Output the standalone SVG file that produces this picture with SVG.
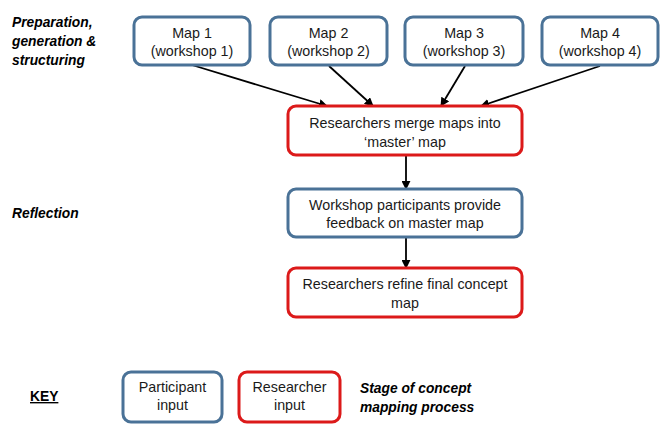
<svg xmlns="http://www.w3.org/2000/svg" width="667" height="432" viewBox="0 0 667 432">
<style>
.box{fill:#fff;stroke-width:3}
.p{stroke:#4a7297}
.r{stroke:#dc1a1a}
.t{font-family:"Liberation Sans",Arial,sans-serif;font-size:14.3px;fill:#1a1a1a;text-anchor:middle}
.l{font-family:"Liberation Sans",Arial,sans-serif;font-size:13.8px;font-weight:bold;font-style:italic;fill:#000}
.k{font-style:normal;text-decoration:underline}
.c{stroke:#000;stroke-width:1.8;fill:none;marker-end:url(#ah)}
</style>
<defs>
<marker id="ah" viewBox="0 0 10 10" refX="9" refY="5" markerWidth="5" markerHeight="5" orient="auto" markerUnits="strokeWidth">
<path d="M0,0 L10,5 L0,10 z" fill="#000"/>
</marker>
</defs>
<rect width="667" height="432" fill="#fff"/>
<g id="labels">
<text class="l" x="12" y="27">Preparation,</text>
<text class="l" x="12" y="46">generation &amp;</text>
<text class="l" x="12" y="65">structuring</text>
<text class="l" x="12" y="218">Reflection</text>
<text class="l k" x="30" y="401">KEY</text>
<text class="l" x="360" y="393">Stage of concept</text>
<text class="l" x="360" y="412">mapping process</text>
</g>
<g id="connectors">
<line class="c" x1="192" y1="65" x2="327" y2="106"/>
<line class="c" x1="329" y1="66" x2="373" y2="106"/>
<line class="c" x1="465" y1="66" x2="441" y2="106"/>
<line class="c" x1="600" y1="66" x2="481" y2="106"/>
<line class="c" x1="406" y1="156" x2="406" y2="189"/>
<line class="c" x1="406" y1="238" x2="406" y2="268"/>
</g>
<g id="map1">
<rect class="box p" x="134" y="17" width="116" height="48" rx="8"/>
<text class="t" x="192" y="38">Map 1</text>
<text class="t" x="192" y="56">(workshop  1)</text>
</g>
<g id="map2">
<rect class="box p" x="270" y="17" width="117" height="48" rx="8"/>
<text class="t" x="328.5" y="38">Map 2</text>
<text class="t" x="328.5" y="56">(workshop  2)</text>
</g>
<g id="map3">
<rect class="box p" x="405" y="17" width="118" height="48" rx="8"/>
<text class="t" x="464" y="38">Map 3</text>
<text class="t" x="464" y="56">(workshop  3)</text>
</g>
<g id="map4">
<rect class="box p" x="542" y="17" width="116" height="48" rx="8"/>
<text class="t" x="600" y="38">Map 4</text>
<text class="t" x="600" y="56">(workshop  4)</text>
</g>
<g id="merge">
<rect class="box r" x="288" y="106" width="234" height="49" rx="8"/>
<text class="t" x="405" y="128">Researchers merge maps into</text>
<text class="t" x="405" y="147">‘master’ map</text>
</g>
<g id="feedback">
<rect class="box p" x="288" y="189" width="234" height="48" rx="8"/>
<text class="t" x="405" y="210">Workshop  participants provide</text>
<text class="t" x="405" y="228">feedback on master map</text>
</g>
<g id="refine">
<rect class="box r" x="288" y="268" width="234" height="49" rx="8"/>
<text class="t" x="405" y="289">Researchers refine final concept</text>
<text class="t" x="405" y="308">map</text>
</g>
<g id="key-participant">
<rect class="box p" x="123" y="372" width="99" height="50" rx="8"/>
<text class="t" x="172.5" y="392">Participant</text>
<text class="t" x="172.5" y="410">input</text>
</g>
<g id="key-researcher">
<rect class="box r" x="239" y="372" width="101" height="50" rx="8"/>
<text class="t" x="289.5" y="392">Researcher</text>
<text class="t" x="289.5" y="410">input</text>
</g>
</svg>
